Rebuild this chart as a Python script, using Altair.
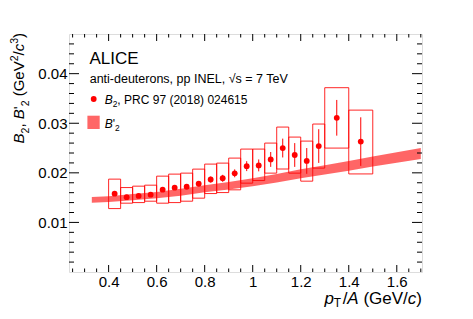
import altair as alt
import pandas as pd

# ---------------- data ----------------
pt = [0.425, 0.475, 0.525, 0.575, 0.625, 0.675, 0.725, 0.775, 0.825, 0.875,
      0.925, 0.975, 1.025, 1.075, 1.125, 1.175, 1.225, 1.275, 1.35, 1.45]
bin_lo = [0.40, 0.45, 0.50, 0.55, 0.60, 0.65, 0.70, 0.75, 0.80, 0.85,
          0.90, 0.95, 1.00, 1.05, 1.10, 1.15, 1.20, 1.25, 1.30, 1.40]
bin_hi = [0.45, 0.50, 0.55, 0.60, 0.65, 0.70, 0.75, 0.80, 0.85, 0.90,
          0.95, 1.00, 1.05, 1.10, 1.15, 1.20, 1.25, 1.30, 1.40, 1.50]
b2 = [0.0158, 0.0151, 0.01535, 0.0156, 0.0166, 0.0170, 0.0172, 0.0178, 0.01865, 0.0189,
      0.0199, 0.02135, 0.0215, 0.0227, 0.0250, 0.0236, 0.0224, 0.0254, 0.0311, 0.0263]
stat = [0.0003, 0.0003, 0.0003, 0.0003, 0.0004, 0.0004, 0.0004, 0.0005, 0.0006, 0.0007,
        0.0008, 0.0010, 0.0012, 0.0015, 0.0019, 0.0024, 0.0026, 0.0034, 0.0036, 0.0049]
sys_lo = [0.01279, 0.01388, 0.01400, 0.01428, 0.01388, 0.01400, 0.01428, 0.01489, 0.01582, 0.01602,
          0.01657, 0.01792, 0.01845, 0.01994, 0.02077, 0.01994, 0.01832, 0.02095, 0.02499, 0.01978]
sys_hi = [0.01873, 0.01703, 0.01731, 0.01751, 0.01933, 0.01974, 0.01994, 0.02075, 0.02176, 0.02196,
          0.02297, 0.02479, 0.02479, 0.02600, 0.02923, 0.02721, 0.02640, 0.02984, 0.03717, 0.03265]

band_x = [0.33, 0.4, 0.5, 0.6, 0.7, 0.8, 0.9, 1.0, 1.1, 1.2, 1.3, 1.4, 1.5, 1.6, 1.7]
band_mid = [0.01455, 0.0147, 0.0151, 0.0155, 0.0161, 0.0168, 0.0174, 0.0181,
            0.0189, 0.0198, 0.0206, 0.0214, 0.0223, 0.0231, 0.0239]
band_half = [0.0006, 0.0006, 0.00065, 0.00065, 0.0007, 0.0007, 0.00075, 0.0008,
             0.00085, 0.0009, 0.00095, 0.001, 0.001, 0.00105, 0.0011]

x_major = [0.4, 0.6, 0.8, 1.0, 1.2, 1.4, 1.6]
x_minor = [0.25, 0.3, 0.35, 0.45, 0.5, 0.55, 0.65, 0.7, 0.75, 0.85, 0.9, 0.95, 1.05,
           1.1, 1.15, 1.25, 1.3, 1.35, 1.45, 1.5, 1.55, 1.65, 1.7]
y_major = [0.01, 0.02, 0.03, 0.04]
y_minor = [0.002, 0.004, 0.006, 0.008, 0.012, 0.014, 0.016, 0.018, 0.022, 0.024, 0.026,
           0.028, 0.032, 0.034, 0.036, 0.038, 0.042, 0.044, 0.046]

# ---------------- layout ----------------
W, H = 353, 238
XMIN, XMAX = 0.235, 1.705
YMIN, YMAX = 0.0, 0.048
FONT = "Liberation Sans"
RED = "#ff0000"

xs = alt.Scale(domain=[XMIN, XMAX], nice=False, zero=False)
ys = alt.Scale(domain=[YMIN, YMAX], nice=False, zero=False)

pts = pd.DataFrame({"pt": pt, "lo": bin_lo, "hi": bin_hi, "b2": b2,
                    "slo": sys_lo, "shi": sys_hi})
pts["elo"] = pts["b2"] - pd.Series(stat)
pts["ehi"] = pts["b2"] + pd.Series(stat)

band = pd.DataFrame({"x": band_x, "m": band_mid, "h": band_half})
band["lo"] = band["m"] - band["h"]
band["hi"] = band["m"] + band["h"]

base_axes = alt.Chart(pts).mark_point(opacity=0).encode(
    x=alt.X("pt:Q", scale=xs,
            axis=alt.Axis(values=x_major, format="~g", title=None, ticks=False,
                          domain=False, grid=False, labelFont=FONT, labelFontSize=15,
                          labelColor="black", labelPadding=2)),
    y=alt.Y("b2:Q", scale=ys,
            axis=alt.Axis(values=y_major, format="~g", title=None, ticks=False,
                          domain=False, grid=False, labelFont=FONT, labelFontSize=15,
                          labelColor="black", labelPadding=2)),
)

boxes = alt.Chart(pts).mark_rect(fillOpacity=0, stroke=RED, strokeWidth=1,
                                 strokeOpacity=0.85).encode(
    x=alt.X("lo:Q", scale=xs), x2="hi:Q",
    y=alt.Y("slo:Q", scale=ys), y2="shi:Q")

band_area = alt.Chart(band).mark_area(color=RED, opacity=0.6).encode(
    x=alt.X("x:Q", scale=xs), y=alt.Y("lo:Q", scale=ys), y2="hi:Q")

errs = alt.Chart(pts).mark_rule(color=RED, strokeWidth=1).encode(
    x=alt.X("pt:Q", scale=xs), y=alt.Y("elo:Q", scale=ys), y2="ehi:Q")

dots = alt.Chart(pts).mark_circle(color=RED, opacity=1, size=34).encode(
    x=alt.X("pt:Q", scale=xs), y=alt.Y("b2:Q", scale=ys))


def xticks(vals, length):
    d = pd.DataFrame({"v": vals})
    bot = alt.Chart(d).mark_rule(color="black", strokeWidth=1).encode(
        x=alt.X("v:Q", scale=xs), y=alt.value(H), y2=alt.value(H - length))
    top = alt.Chart(d).mark_rule(color="black", strokeWidth=1).encode(
        x=alt.X("v:Q", scale=xs), y=alt.value(0), y2=alt.value(length))
    return [bot, top]


def yticks(vals, length):
    d = pd.DataFrame({"v": vals})
    left = alt.Chart(d).mark_rule(color="black", strokeWidth=1).encode(
        y=alt.Y("v:Q", scale=ys), x=alt.value(0), x2=alt.value(length))
    right = alt.Chart(d).mark_rule(color="black", strokeWidth=1).encode(
        y=alt.Y("v:Q", scale=ys), x=alt.value(W), x2=alt.value(W - length))
    return [left, right]


CW = {' ': 278, '(': 333, ')': 333, '/': 278, ',': 278, '.': 278, '-': 333, '=': 584,
      "'": 191, '√': 549, 'A': 667, 'B': 667, 'C': 722, 'E': 667, 'G': 778, 'I': 278,
      'L': 556, 'N': 722, 'P': 667, 'R': 722, 'T': 611, 'V': 667, 'a': 556, 'c': 500,
      'd': 556, 'e': 556, 'i': 222, 'n': 556, 'o': 556, 'p': 556, 'r': 333, 's': 500,
      't': 278, 'u': 556}


def tw(s, size):
    return sum(CW.get(ch, 556) for ch in s) / 1000.0 * size


def piece_size(kind, size):
    return size * 0.7 if kind in ("sub", "sup") else size


def rich_width(pieces, size, gap=0.0):
    return sum(tw(t, piece_size(k, size)) + (gap if k == "sub" else 0)
               for t, k in pieces)


def rich(pieces, x0, y0, size, angle=0, gap=0.0, sub_shift=0.28):
    layers = []
    off = 0.0
    for txt, kind in pieces:
        fs = piece_size(kind, size)
        lead = len(txt) - len(txt.lstrip(" "))
        off += tw(" " * lead, fs)
        body = txt.lstrip(" ")
        style = "italic" if kind == "it" else "normal"
        shift = size * sub_shift if kind == "sub" else (-size * 0.42 if kind == "sup" else 0)
        if body.strip():
            kw = dict(text=body, font=FONT, fontSize=fs, fontStyle=style, color="black",
                      align="left", baseline="alphabetic", dx=round(off, 2), dy=round(shift, 2))
            if angle:
                kw["angle"] = angle
            layers.append(alt.Chart(pts).transform_filter("datum.pt < 0.43").mark_text(**kw).encode(
                x=alt.value(x0), y=alt.value(y0)))
        off += tw(body, fs)
        if kind == "sub":
            off += gap
    return layers


texts = []
texts += rich([("ALICE", "n")], 20.5, 30, 17)
texts += rich([("anti-deuterons, pp INEL, √s = 7 TeV", "n")], 20.7, 49, 12.5)
texts += rich([("B", "it"), ("2", "sub"), (", PRC 97 (2018) 024615", "n")], 35.7, 69.7, 12)
texts += rich([("B", "it"), ("'", "n"), ("2", "sub")], 35.7, 93.5, 12)

xt = [("p", "it"), ("T", "sub"), ("/", "n"), ("A", "it"), (" (GeV/", "n"), ("c", "it"), (")", "n")]
XT_SIZE = 17
XT_GAP = 1.5
texts += rich(xt, W - rich_width(xt, XT_SIZE, XT_GAP), 269.5, XT_SIZE, gap=XT_GAP,
              sub_shift=0.22)

yt = [("B", "it"), ("2", "sub"), (", ", "n"), ("B", "it"), ("'", "n"), ("2", "sub"),
      (" (GeV", "n"), ("2", "sup"), ("/", "n"), ("c", "it"), ("3", "sup"), (")", "n")]
YT_SIZE = 15
texts += rich(yt, -44.6, -1 + rich_width(yt, YT_SIZE), YT_SIZE, angle=270)

legend_box = alt.Chart(pts).transform_filter("datum.pt < 0.43").mark_rect(
    color=RED, opacity=0.6).encode(
    x=alt.value(18.4), x2=alt.value(30.7), y=alt.value(81.7), y2=alt.value(95))
legend_dot = alt.Chart(pts).transform_filter("datum.pt < 0.43").mark_circle(
    color=RED, opacity=1, size=34).encode(x=alt.value(24.7), y=alt.value(65))

layers = [base_axes, boxes, band_area, errs, dots]
layers += xticks(x_major, 7) + xticks(x_minor, 3.5)
layers += yticks(y_major, 10) + yticks(y_minor, 5)
layers += [legend_box, legend_dot] + texts

chart = alt.layer(*layers).properties(
    width=W, height=H,
    autosize=alt.AutoSizeParams(type="none"),
    padding={"left": 61, "top": 26, "right": 40, "bottom": 39},
).configure_view(stroke="black", strokeWidth=1).configure(background="white")

chart.save("out.html", embed_options={"renderer": "svg", "actions": False})
